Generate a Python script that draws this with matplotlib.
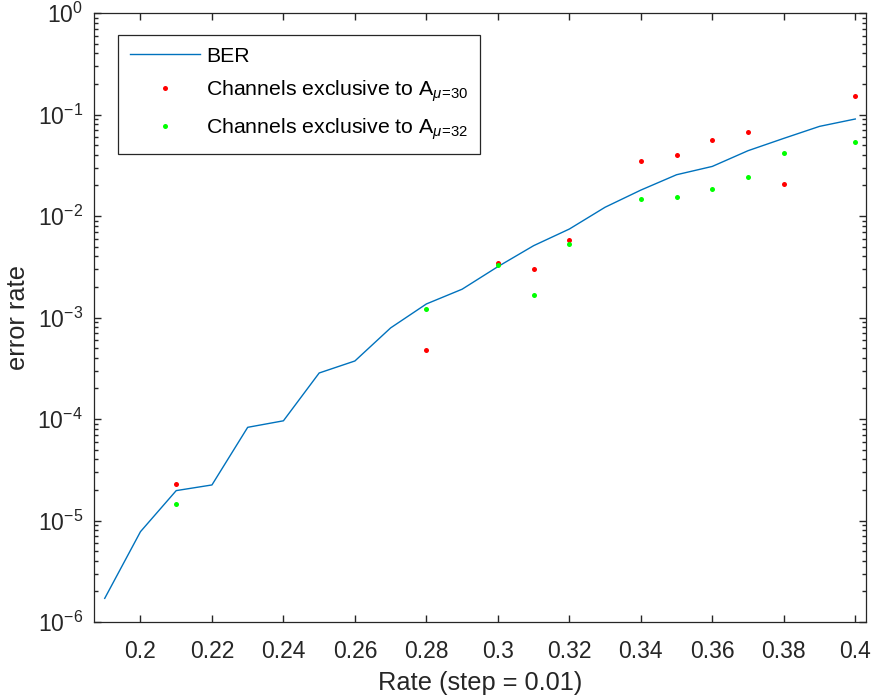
import numpy as np
import matplotlib
matplotlib.use("Agg")
import matplotlib.pyplot as plt
from matplotlib.ticker import LogLocator, FixedLocator, FixedFormatter

# BER curve (rate step = 0.01)
rate = [0.19, 0.20, 0.21, 0.22, 0.23, 0.24, 0.25, 0.26, 0.27, 0.28, 0.29,
        0.30, 0.31, 0.32, 0.33, 0.34, 0.35, 0.36, 0.37, 0.38, 0.39, 0.40]
ber = [1.71e-6, 7.76e-6, 1.97e-5, 2.24e-5, 8.28e-5, 9.6e-5, 2.84e-4, 3.73e-4,
       7.9e-4, 1.36e-3, 1.90e-3, 3.17e-3, 5.1e-3, 7.44e-3, 1.22e-2, 1.80e-2,
       2.55e-2, 3.08e-2, 4.40e-2, 5.82e-2, 7.64e-2, 9.03e-2]

# channels exclusive to A
rate_pts = [0.21, 0.28, 0.30, 0.31, 0.32, 0.34, 0.35, 0.36, 0.37, 0.38, 0.40]
err_mu30 = [2.29e-5, 4.79e-4, 3.44e-3, 3.03e-3, 5.8e-3, 3.51e-2, 3.99e-2,
            5.65e-2, 6.73e-2, 2.05e-2, 0.152]
err_mu32 = [1.45e-5, 1.20e-3, 3.27e-3, 1.65e-3, 5.26e-3, 1.46e-2, 1.54e-2,
            1.83e-2, 2.41e-2, 4.15e-2, 5.32e-2]

x_ticks = [0.2, 0.22, 0.24, 0.26, 0.28, 0.3, 0.32, 0.34, 0.36, 0.38, 0.4]
x_ticklabels = ["0.2", "0.22", "0.24", "0.26", "0.28", "0.3", "0.32", "0.34",
                "0.36", "0.38", "0.4"]

dark = "#262626"

plt.rcParams["font.family"] = ["Liberation Sans", "DejaVu Sans"]
plt.rcParams["mathtext.fontset"] = "custom"
plt.rcParams["mathtext.rm"] = "Liberation Sans"
plt.rcParams["mathtext.it"] = "Liberation Sans:italic"
plt.rcParams["mathtext.bf"] = "Liberation Sans:bold"
plt.rcParams["axes.unicode_minus"] = False
plt.rcParams["xtick.direction"] = "in"
plt.rcParams["ytick.direction"] = "in"
plt.rcParams["xtick.top"] = True
plt.rcParams["ytick.right"] = True
plt.rcParams["xtick.major.size"] = 5
plt.rcParams["ytick.major.size"] = 5
plt.rcParams["ytick.minor.size"] = 3
plt.rcParams["xtick.major.width"] = 1.0
plt.rcParams["ytick.major.width"] = 1.0
plt.rcParams["ytick.minor.width"] = 1.0
plt.rcParams["xtick.color"] = dark
plt.rcParams["ytick.color"] = dark

fig = plt.figure(figsize=(8.75, 7), dpi=100)
ax = fig.add_axes([94 / 875, 78 / 700, 772 / 875, 609 / 700])

ax.plot(rate, ber, color="#0072BD", lw=1.0, label="BER")
ax.plot(rate_pts, err_mu30, ls="none", marker="o", ms=3.6, mec="none",
        color="#FF0000", label=r"Channels exclusive to A$_{\mu\!=\!30}$")
ax.plot(rate_pts, err_mu32, ls="none", marker="o", ms=3.6, mec="none",
        color="#00FF00", label=r"Channels exclusive to A$_{\mu\!=\!32}$")

ax.set_yscale("log")
ax.set_xlim(0.187, 0.403)
ax.set_ylim(1e-6, 1)

ax.xaxis.set_major_locator(FixedLocator(x_ticks))
ax.xaxis.set_major_formatter(FixedFormatter(x_ticklabels))
ax.yaxis.set_major_locator(LogLocator(base=10, numticks=10))
ax.yaxis.set_minor_locator(LogLocator(base=10, subs=np.arange(2, 10) * 1.0,
                                      numticks=100))

for sp in ax.spines.values():
    sp.set_color(dark)
    sp.set_linewidth(0.9)

ax.tick_params(axis="x", labelsize=16.5, pad=13)
ax.tick_params(axis="y", labelsize=16.5, pad=8)

ax.set_xlabel("Rate (step = 0.01)", fontsize=18.3, color=dark, labelpad=6)
ax.set_ylabel("error rate", fontsize=18.3, color=dark, labelpad=5)

leg = ax.legend(loc="upper left", bbox_to_anchor=(0.031, 0.964),
                borderaxespad=0, fontsize=15.3, fancybox=False,
                edgecolor=dark, framealpha=1, handlelength=3.3,
                handletextpad=0.3, borderpad=0.55, labelspacing=0.6)
leg.get_frame().set_linewidth(0.9)
for t in leg.get_texts():
    t.set_color("black")

fig.savefig("out.png", dpi=100)
